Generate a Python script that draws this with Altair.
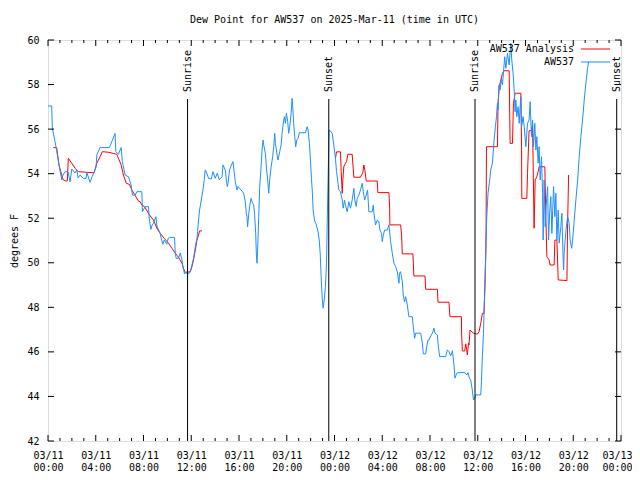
import altair as alt
import pandas as pd

FONT = "DejaVu Sans Mono"

# AW537 observations: (hours since 2025-03-11 00:00 UTC, dew point F)
aw537_obs = [
    (0.00,57.04),(0.31,57.04),(0.36,56.05),(0.59,55.44),(0.76,54.93),(0.95,54.31),(1.15,53.72),(1.17,53.85),
    (1.43,54.09),(1.68,54.08),(1.85,53.64),(1.99,54.21),(2.27,54.03),(2.41,54.17),(2.52,53.81),(2.69,53.94),
    (2.96,53.79),(3.19,53.79),(3.25,54.06),(3.52,53.61),(3.69,53.86),(3.86,54.06),(4.03,54.31),(4.09,54.84),
    (4.36,55.17),(5.14,55.17),(5.35,55.44),(5.62,55.81),(5.68,54.99),(5.90,54.87),(6.13,55.17),(6.23,54.54),
    (6.46,53.94),(6.74,53.86),(6.96,53.49),(7.07,53.04),(7.30,53.04),(7.44,53.19),(7.86,53.19),(7.91,52.29),
    (8.14,52.52),(8.42,52.52),(8.48,52.00),(8.62,51.50),(8.73,51.70),(8.84,51.77),(9.04,52.07),(9.12,51.65),
    (9.40,51.32),(9.48,51.10),(9.62,50.83),(9.73,51.02),(9.96,50.83),(10.07,51.10),(10.18,51.14),(10.60,51.14),
    (10.66,50.43),(10.74,50.20),(10.93,50.20),(11.08,50.45),(11.22,50.13),(11.30,49.83),(11.44,49.50),(11.58,49.60),
    (11.64,49.50),(11.77,49.50),(11.92,49.60),(12.06,49.90),(12.19,50.20),(12.34,50.72),(12.48,51.10),(12.53,51.40),
    (12.61,51.92),(12.70,52.37),(12.84,52.82),(12.98,53.27),(13.09,53.72),(13.17,54.17),(13.26,54.09),(13.45,53.79),
    (13.68,53.76),(13.82,54.09),(14.01,53.79),(14.18,54.02),(14.35,53.72),(14.58,53.86),(14.66,54.39),(14.85,54.17),
    (14.94,53.72),(15.02,53.42),(15.08,53.57),(15.21,54.17),(15.36,54.39),(15.50,54.54),(15.61,54.02),(15.69,53.64),
    (15.83,53.27),(15.92,53.42),(16.05,53.34),(16.25,53.22),(16.39,53.12),(16.53,52.74),(16.61,52.22),(16.67,52.07),
    (16.72,51.62),(16.81,52.15),(16.89,52.52),(17.01,52.89),(17.09,52.74),(17.23,52.59),(17.31,52.15),(17.40,51.32),
    (17.45,50.43),(17.51,49.98),(17.56,50.57),(17.65,52.07),(17.73,53.34),(17.85,54.31),(17.93,55.06),(18.02,55.51),
    (18.07,55.29),(18.21,54.91),(18.29,54.31),(18.40,53.72),(18.49,53.12),(18.57,53.72),(18.69,54.31),(18.82,54.76),
    (18.91,55.21),(18.99,55.81),(19.05,55.36),(19.19,54.84),(19.27,54.61),(19.41,54.99),(19.53,55.29),(19.61,55.81),
    (19.69,56.18),(19.80,56.56),(19.89,56.26),(19.97,56.71),(20.08,56.33),(20.16,55.81),(20.25,56.11),(20.37,56.71),
    (20.45,57.38),(20.50,57.01),(20.58,56.26),(20.67,55.66),(20.75,55.21),(20.84,55.51),(20.95,55.59),(21.06,55.84),
    (21.57,55.84),(21.71,56.11),(21.79,55.96),(21.90,55.36),(21.99,54.54),(22.07,53.79),(22.15,53.12),(22.21,52.37),
    (22.32,51.92),(22.43,51.77),(22.60,51.47),(22.72,51.02),(22.80,50.43),(22.88,49.38),(22.97,48.41),(23.05,47.96),
    (23.14,48.33),(23.24,48.93),(23.33,49.98),(23.41,52.37),(23.50,54.76),(23.55,55.96),(23.66,55.92),(23.81,55.81),
    (23.94,55.29),(24.08,54.69),(24.17,54.09),(24.28,53.64),(24.36,53.27),(24.50,53.19),(24.65,52.82),(24.73,52.45),
    (24.84,52.82),(24.92,52.59),(25.06,52.29),(25.20,52.74),(25.34,52.45),(25.48,52.82),(25.62,53.34),(25.70,52.82),
    (25.82,52.52),(25.90,52.89),(26.04,53.04),(26.18,53.27),(26.32,53.57),(26.41,53.19),(26.52,52.82),(26.66,53.04),
    (26.77,53.27),(26.88,52.29),(27.16,52.29),(27.25,52.59),(27.30,52.22),(27.44,51.70),(27.58,51.92),(27.72,51.84),
    (27.80,51.47),(27.94,51.32),(28.00,50.95),(28.09,51.25),(28.20,51.47),(28.42,51.47),(28.56,51.70),(28.70,50.95),
    (28.84,50.43),(28.98,49.98),(29.12,49.83),(29.26,49.60),(29.40,49.08),(29.45,49.53),(29.54,49.60),(29.68,49.15),
    (29.76,48.55),(29.87,48.25),(29.96,48.48),(30.10,48.11),(30.23,47.58),(30.52,47.58),(30.60,47.13),(30.71,46.61),
    (30.80,46.84),(31.22,46.84),(31.36,46.39),(31.44,45.91),(31.64,45.91),(31.72,46.23),(31.83,46.53),(31.91,46.53),
    (32.11,46.76),(32.20,46.84),(32.33,47.06),(32.42,46.84),(32.62,46.76),(32.70,46.23),(32.81,45.79),(33.31,45.79),
    (33.46,46.09),(33.59,46.01),(33.73,45.82),(33.88,46.05),(34.01,45.41),(34.09,44.82),(34.24,45.04),(34.35,45.07),
    (34.93,45.07),(35.08,44.96),(35.18,45.07),(35.30,44.82),(35.41,44.74),(35.55,44.26),(35.64,43.84),(35.75,43.92),
    (35.83,44.07),(36.25,44.07),(36.31,44.66),(36.39,45.79),(36.48,46.84),(36.53,47.88),(36.61,48.93),(36.67,50.27),
    (36.75,52.00),(36.86,53.12),(37.00,53.72),(37.09,54.17),(37.23,54.47),(37.37,55.51),(37.48,56.11),(37.57,56.56),
    (37.65,57.16),(37.70,56.86),(37.79,57.98),(37.87,57.76),(37.99,58.28),(38.07,57.98),(38.16,58.58),(38.26,59.25),
    (38.35,58.73),(38.49,59.40),(38.63,58.88),(38.77,59.85),(38.85,59.10),(38.96,58.51),(39.05,57.76),(39.13,56.78),
    (39.19,57.31),(39.27,56.56),(39.38,57.01),(39.47,56.26),(39.55,57.01),(39.61,57.46),(39.67,56.11),(39.80,56.56),
    (39.89,56.11),(40.03,55.21),(40.17,56.26),(40.30,56.41),(40.39,57.23),(40.50,55.66),(40.59,56.41),(40.67,55.21),
    (40.78,56.26),(40.87,55.06),(40.95,55.66),(41.06,54.47),(41.14,55.21),(41.23,53.72),(41.34,54.76),(41.43,53.12),
    (41.48,51.02),(41.56,53.72),(41.65,51.62),(41.73,52.52),(41.85,53.42),(41.93,51.02),(42.02,52.22),(42.12,52.97),
    (42.21,51.32),(42.35,53.42),(42.46,52.07),(42.54,53.12),(42.63,51.02),(42.74,52.37),(42.82,50.88),(42.96,51.62),
    (43.05,52.22),(43.13,50.57),(43.19,49.68),(43.24,50.43),(43.32,51.02),(43.41,51.55),(43.53,52.07),(43.66,51.77),
    (43.74,51.02),(43.86,50.65),(43.95,51.02),(44.08,51.92),(44.22,52.82),(44.37,53.72),(44.50,54.76),(44.64,55.66),
    (44.78,56.41),(44.92,57.31),(45.06,58.06),(45.20,58.73),(45.29,59.03),
]

# AW537 Analysis, first segment (day 1 morning)
analysis_day1 = [
    (0.44,55.17),(0.73,55.17),(0.81,54.84),(0.92,54.39),(1.15,53.94),(1.28,53.72),(1.49,53.67),(1.62,53.67),
    (1.70,54.69),(1.99,54.47),(2.27,54.24),(2.54,54.09),(3.25,54.06),(3.86,54.04),(4.09,54.47),(4.36,54.76),
    (4.56,54.99),(5.06,54.96),(5.48,54.91),(5.76,54.87),(5.90,54.69),(6.13,54.39),(6.32,53.94),(6.55,53.57),
    (6.82,53.52),(7.02,53.27),(7.24,53.07),(7.58,52.77),(7.72,52.74),(7.86,52.59),(8.08,52.52),(8.56,52.10),
    (8.84,51.92),(9.12,51.55),(9.40,51.32),(9.73,51.10),(10.09,50.88),(10.38,50.65),(10.66,50.43),(10.93,50.25),
    (11.22,49.98),(11.35,49.75),(11.50,49.56),(11.92,49.60),(12.06,49.83),(12.19,50.13),(12.34,50.57),(12.48,51.02),
    (12.61,51.25),(12.70,51.43),(12.90,51.43),
]

# AW537 Analysis, second segment (from day-1 sunset onwards)
analysis_day2 = [
    (24.08,54.69),(24.17,54.98),(24.50,54.98),(24.56,54.09),(24.65,53.12),(24.70,53.72),(24.78,54.31),(24.92,54.47),
    (25.01,54.54),(25.12,54.87),(25.48,54.87),(25.62,53.84),(26.18,53.84),(26.26,53.94),(26.37,54.02),(26.46,54.39),
    (26.54,54.17),(26.66,53.67),(27.58,53.67),(27.63,53.15),(28.56,53.15),(28.62,52.45),(28.64,51.70),(29.54,51.70),
    (29.62,51.25),(29.68,50.40),(30.57,50.40),(30.65,49.41),(31.58,49.41),(31.64,48.81),(32.62,48.81),(32.67,48.23),
    (33.59,48.23),(33.67,47.58),(34.63,47.58),(34.65,46.80),(34.71,46.04),(34.91,46.04),(34.99,46.36),(35.08,46.09),
    (35.13,45.86),(35.22,46.39),(35.27,46.31),(35.35,46.98),(35.64,46.84),(35.97,46.80),(36.11,46.91),(36.25,47.28),
    (36.39,47.73),(36.53,47.73),(36.59,48.90),(36.67,50.43),(36.70,51.47),(36.73,55.21),(37.65,55.21),(37.70,57.16),
    (37.79,57.90),(37.93,58.20),(38.07,58.50),(38.21,58.62),(38.63,58.62),(38.71,55.36),(38.91,55.36),(38.99,57.16),
    (39.13,57.61),(39.61,57.61),(39.67,55.21),(39.69,52.89),(40.11,52.89),(40.17,54.02),(40.30,55.93),(40.50,55.93),
    (40.59,56.18),(40.64,54.47),(40.72,51.55),(40.81,53.72),(40.95,53.86),(41.06,54.09),(41.14,54.31),(41.62,54.31),
    (41.71,51.92),(41.79,50.27),(41.98,50.13),(42.06,49.90),(42.40,49.90),(42.46,51.02),(42.63,51.02),(42.74,49.23),
    (43.47,49.20),(43.53,51.77),(43.61,53.94),
]

sun_hours = [11.69, 23.52, 35.77, 47.64]
sun_labels = ["Sunrise", "Sunset", "Sunrise", "Sunset"]

x_major_ticks = [0, 4, 8, 12, 16, 20, 24, 28, 32, 36, 40, 44, 48]
x_minor_ticks = [h for h in range(49) if h % 4 != 0]
y_ticks = [42, 44, 46, 48, 50, 52, 54, 56, 58, 60]

W, H = 573, 401

obs_df = pd.DataFrame(aw537_obs, columns=["h", "v"])
an_df = pd.concat([
    pd.DataFrame(analysis_day1, columns=["h", "v"]).assign(seg=1),
    pd.DataFrame(analysis_day2, columns=["h", "v"]).assign(seg=2),
])
sun_df = pd.DataFrame({"h": sun_hours, "lbl": sun_labels})
xmaj_df = pd.DataFrame({"h": x_major_ticks})
xmin_df = pd.DataFrame({"h": x_minor_ticks})
yt_df = pd.DataFrame({"v": y_ticks})
one = pd.DataFrame({"a": [0]})

xscale = alt.Scale(domain=[0, 48], nice=False, zero=False)
yscale = alt.Scale(domain=[42, 60], nice=False, zero=False)

xaxis = alt.Axis(
    values=x_major_ticks,
    labelExpr="['03/' + (11 + floor(datum.value/24)), (datum.value % 24 < 10 ? '0' : '') + (datum.value % 24) + ':00']",
    ticks=False, domain=False, grid=False, title=None,
    labelFont=FONT, labelFontSize=10, labelColor="black",
    labelPadding=9, labelLineHeight=12, labelFlush=False, labelOverlap=False,
    labelOffset={"condition": {"test": "datum.value == 48", "value": -4}, "value": 0},
)
yaxis = alt.Axis(
    values=y_ticks, ticks=False, domain=False, grid=False,
    labelFont=FONT, labelFontSize=10, labelColor="black", labelPadding=9,
    title="degrees F", titleFont=FONT, titleFontSize=10, titleFontWeight="normal",
    titleColor="black", titleX=-34, titleY=H / 2, titleAngle=270,
    titleAlign="center", titleBaseline="middle",
)

X = lambda: alt.X("h:Q", scale=xscale, axis=xaxis)
Y = lambda: alt.Y("v:Q", scale=yscale, axis=yaxis)

analysis = alt.Chart(an_df).mark_line(color="#ff0000", strokeWidth=1).encode(
    x=X(), y=Y(), detail="seg:N",
)
obs = alt.Chart(obs_df).mark_line(color="#1e8fff", strokeWidth=1).encode(x=X(), y=Y())

sun_rules = alt.Chart(sun_df).mark_rule(color="black", strokeWidth=1).encode(
    x=X(), y=alt.value(59), y2=alt.value(H)
)
sun_text = alt.Chart(sun_df).mark_text(
    angle=270, align="left", baseline="middle", font=FONT, fontSize=10, color="black"
).encode(x=X(), y=alt.value(52), text="lbl:N")

tick_bot_major = alt.Chart(xmaj_df).mark_rule(color="black").encode(x=X(), y=alt.value(H), y2=alt.value(H - 6))
tick_top_major = alt.Chart(xmaj_df).mark_rule(color="black").encode(x=X(), y=alt.value(0), y2=alt.value(6))
tick_bot_minor = alt.Chart(xmin_df).mark_rule(color="black").encode(x=X(), y=alt.value(H), y2=alt.value(H - 3))
tick_top_minor = alt.Chart(xmin_df).mark_rule(color="black").encode(x=X(), y=alt.value(0), y2=alt.value(3))
tick_left = alt.Chart(yt_df).mark_rule(color="black").encode(y=Y(), x=alt.value(0), x2=alt.value(6))
tick_right = alt.Chart(yt_df).mark_rule(color="black").encode(y=Y(), x=alt.value(W), x2=alt.value(W - 6))

leg_t1 = alt.Chart(one).mark_text(align="right", baseline="middle", font=FONT, fontSize=10, color="black",
                                  text="AW537 Analysis").encode(x=alt.value(526), y=alt.value(9))
leg_t2 = alt.Chart(one).mark_text(align="right", baseline="middle", font=FONT, fontSize=10, color="black",
                                  text="AW537").encode(x=alt.value(526), y=alt.value(22))
leg_l1 = alt.Chart(one).mark_rule(color="#ff0000", strokeWidth=1).encode(
    x=alt.value(533), x2=alt.value(562), y=alt.value(9))
leg_l2 = alt.Chart(one).mark_rule(color="#1e8fff", strokeWidth=1).encode(
    x=alt.value(533), x2=alt.value(562), y=alt.value(22))

chart = alt.layer(
    analysis, obs, sun_rules, sun_text,
    tick_bot_major, tick_top_major, tick_bot_minor, tick_top_minor, tick_left, tick_right,
    leg_t1, leg_t2, leg_l1, leg_l2,
).properties(
    width=W, height=H,
    title=alt.Title("Dew Point for AW537 on 2025-Mar-11 (time in UTC)", font=FONT, fontSize=10,
                    fontWeight="normal", color="black", offset=10, anchor="middle"),
    autosize=alt.AutoSizeParams(type="none"),
    padding={"left": 40, "top": 32, "right": 11, "bottom": 31},
).configure_view(stroke="black", strokeWidth=1).configure(background="white")

chart.save("out.html", embed_options={"renderer": "svg", "actions": False})
